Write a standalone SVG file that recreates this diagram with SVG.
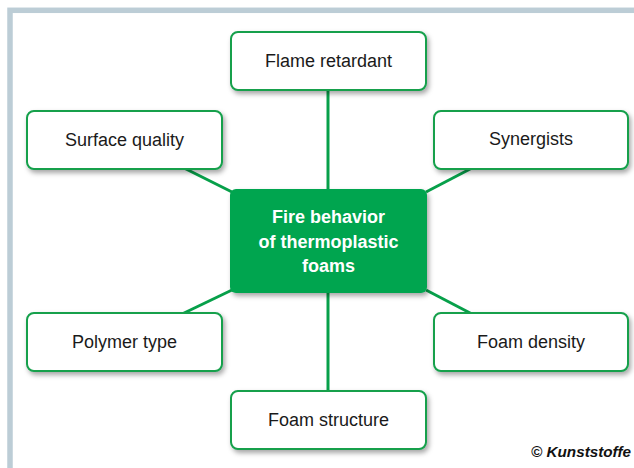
<svg xmlns="http://www.w3.org/2000/svg" width="634" height="468" viewBox="0 0 634 468">
  <defs>
    <filter id="shadow" x="-10%" y="-20%" width="130%" height="150%">
      <feDropShadow dx="2" dy="3" stdDeviation="2.5" flood-color="#000" flood-opacity="0.35"/>
    </filter>
  </defs>
  <style>
    .box { fill: #ffffff; stroke: #13a04b; stroke-width: 2; filter: url(#shadow); }
    .core { fill: #00a550; stroke: none; filter: url(#shadow); }
    .label { font-family: "Liberation Sans", Arial, sans-serif; font-size: 18px; fill: #1a1a1a; text-anchor: middle; }
    .core-label { font-family: "Liberation Sans", Arial, sans-serif; font-size: 18px; font-weight: bold; fill: #ffffff; text-anchor: middle; }
    .link { stroke: #07a04a; stroke-width: 3; fill: none; }
    .credit { font-family: "Liberation Sans", Arial, sans-serif; font-size: 14px; font-weight: bold; font-style: italic; fill: #111111; text-anchor: end; }
  </style>

  <rect x="0" y="0" width="634" height="468" fill="#ffffff"/>
  <!-- outer frame, open to the right and bottom edges -->
  <rect x="10" y="10.3" width="700" height="520" fill="none" stroke="#bccdd6" stroke-width="5.5"/>

  <g id="connectors">
    <line class="link" x1="328" y1="90" x2="328" y2="190"/>
    <line class="link" x1="328" y1="293" x2="328" y2="391"/>
    <line class="link" x1="184" y1="168" x2="232" y2="192"/>
    <line class="link" x1="472" y1="168" x2="426" y2="192"/>
    <line class="link" x1="232" y1="290" x2="182" y2="314"/>
    <line class="link" x1="426" y1="290" x2="472" y2="314"/>
  </g>

  <g id="flame-retardant">
    <rect class="box" x="231" y="32" width="195" height="58" rx="7"/>
    <text class="label" x="328.5" y="67">Flame retardant</text>
  </g>
  <g id="surface-quality">
    <rect class="box" x="27" y="111" width="195" height="58" rx="7"/>
    <text class="label" x="124.5" y="146">Surface quality</text>
  </g>
  <g id="synergists">
    <rect class="box" x="434" y="111" width="194" height="58" rx="7"/>
    <text class="label" x="531" y="145">Synergists</text>
  </g>
  <g id="fire-behavior">
    <rect class="core" x="230" y="189" width="197" height="104" rx="6"/>
    <text class="core-label" x="328.5" y="223">Fire behavior</text>
    <text class="core-label" x="328.5" y="247.5">of thermoplastic</text>
    <text class="core-label" x="328.5" y="272">foams</text>
  </g>
  <g id="polymer-type">
    <rect class="box" x="27" y="313" width="195" height="58" rx="7"/>
    <text class="label" x="124.5" y="348">Polymer type</text>
  </g>
  <g id="foam-density">
    <rect class="box" x="434" y="313" width="194" height="58" rx="7"/>
    <text class="label" x="531" y="348">Foam density</text>
  </g>
  <g id="foam-structure">
    <rect class="box" x="231" y="391" width="195" height="58" rx="7"/>
    <text class="label" x="328.5" y="426">Foam structure</text>
  </g>

  <text class="credit" x="631" y="457" textLength="100" lengthAdjust="spacingAndGlyphs">© Kunststoffe</text>
</svg>
